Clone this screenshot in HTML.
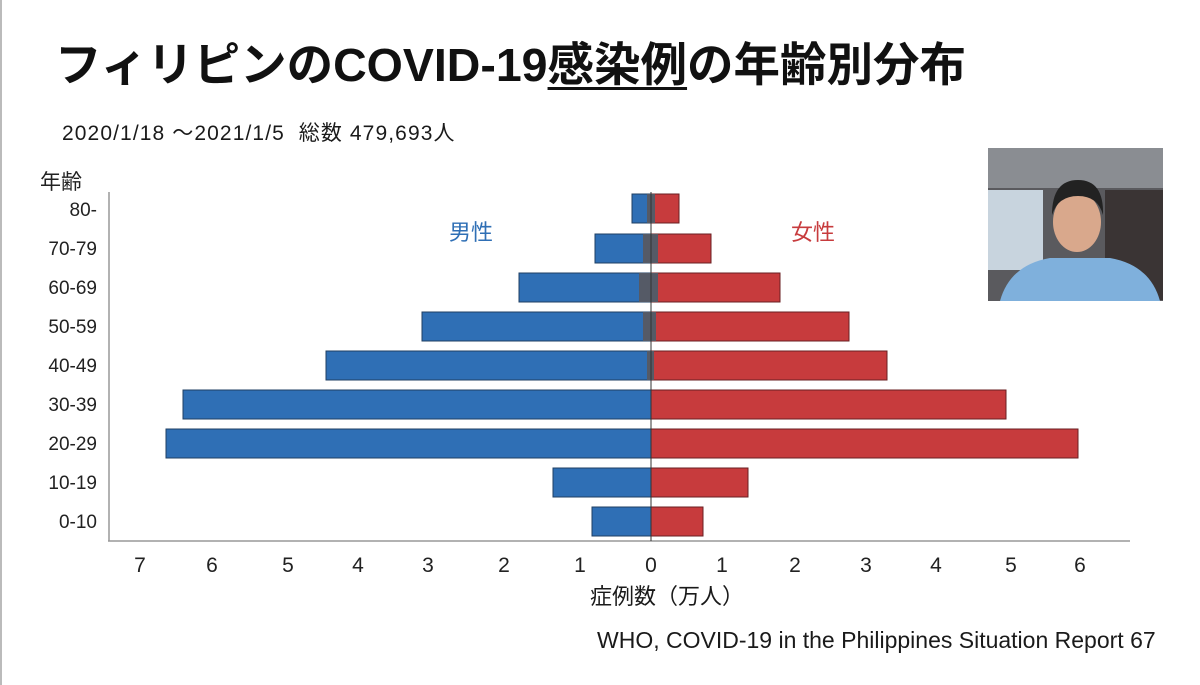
<!DOCTYPE html>
<html><head><meta charset="utf-8"><style>
body{margin:0;width:1200px;height:685px;background:#fff;position:relative;overflow:hidden;font-family:"Liberation Sans","Noto Sans CJK JP",sans-serif;color:#1a1a1a}
.t{position:absolute;white-space:nowrap}
</style></head><body>
<div style="position:absolute;left:0;top:0;width:2px;height:685px;background:#bbb"></div>
<div class="t" style="left:55px;top:28px;font-size:46.5px;font-weight:bold;color:#111">フィリピンのCOVID-19<span style="text-decoration:underline;text-decoration-thickness:3px;text-underline-offset:6px">感染例</span>の年齢別分布</div>
<div class="t" style="left:62px;top:117px;font-size:21px;letter-spacing:1.1px">2020/1/18 ～2021/1/5&nbsp; 総数 479,693人</div>
<div class="t" style="left:590px;top:579px;font-size:22px">症例数（万人）</div>
<div class="t" style="left:597px;top:627px;font-size:23px">WHO, COVID-19 in the Philippines Situation Report 67</div>
<svg width="1200" height="685" style="position:absolute;left:0;top:0" font-family="Liberation Sans, Noto Sans CJK JP, sans-serif">
<text x="40" y="189" font-size="21" fill="#222">年齢</text>
<line x1="109" y1="192" x2="109" y2="541" stroke="#999" stroke-width="1.5"/>
<line x1="108" y1="541" x2="1130" y2="541" stroke="#999" stroke-width="1.5"/>
<g font-size="19" fill="#222" text-anchor="end">
<text x="97" y="216">80-</text><text x="97" y="255">70-79</text><text x="97" y="294">60-69</text><text x="97" y="333">50-59</text><text x="97" y="372">40-49</text><text x="97" y="411">30-39</text><text x="97" y="450">20-29</text><text x="97" y="489">10-19</text><text x="97" y="528">0-10</text>
</g>
<g font-size="21" fill="#222" text-anchor="middle">
<text x="140" y="572">7</text><text x="212" y="572">6</text><text x="288" y="572">5</text><text x="358" y="572">4</text><text x="428" y="572">3</text><text x="504" y="572">2</text><text x="580" y="572">1</text><text x="651" y="572">0</text><text x="722" y="572">1</text><text x="795" y="572">2</text><text x="866" y="572">3</text><text x="936" y="572">4</text><text x="1011" y="572">5</text><text x="1080" y="572">6</text>
</g>
<g stroke="#1f3f63" stroke-width="1" fill="#2f6fb5">
<rect x="632" y="194" width="19" height="29"/><rect x="595" y="234" width="56" height="29"/><rect x="519" y="273" width="132" height="29"/><rect x="422" y="312" width="229" height="29"/><rect x="326" y="351" width="325" height="29"/><rect x="183" y="390" width="468" height="29"/><rect x="166" y="429" width="485" height="29"/><rect x="553" y="468" width="98" height="29"/><rect x="592" y="507" width="59" height="29"/>
</g>
<g stroke="#6a1f22" stroke-width="1" fill="#c73b3d">
<rect x="651" y="194" width="28" height="29"/><rect x="651" y="234" width="60" height="29"/><rect x="651" y="273" width="129" height="29"/><rect x="651" y="312" width="198" height="29"/><rect x="651" y="351" width="236" height="29"/><rect x="651" y="390" width="355" height="29"/><rect x="651" y="429" width="427" height="29"/><rect x="651" y="468" width="97" height="29"/><rect x="651" y="507" width="52" height="29"/>
</g>
<g fill="#555a66">
<rect x="647" y="194" width="8" height="29"/><rect x="643" y="234" width="15" height="29"/><rect x="639" y="273" width="19" height="29"/><rect x="643" y="312" width="13" height="29"/><rect x="647" y="351" width="7" height="29"/>
</g>
<line x1="651" y1="192" x2="651" y2="541" stroke="#333" stroke-width="1"/>
<text x="449" y="240" font-size="22" fill="#2f6fb5">男性</text>
<text x="791" y="240" font-size="22" fill="#c73b3d">女性</text>
<g>
<rect x="988" y="148" width="175" height="153" fill="#5a5a5e"/>
<rect x="988" y="148" width="175" height="40" fill="#8a8d92"/>
<rect x="988" y="190" width="55" height="80" fill="#c8d4de"/>
<rect x="1105" y="190" width="58" height="110" fill="#3a3434"/>
<path d="M1000 301 Q1010 265 1050 258 L1110 258 Q1150 265 1160 301 Z" fill="#7fb0dc"/>
<ellipse cx="1077" cy="222" rx="24" ry="30" fill="#d9a88c"/>
<path d="M1052 215 Q1052 180 1078 180 Q1104 180 1103 215 Q1098 196 1078 196 Q1058 196 1052 215Z" fill="#222"/>
</g>
</svg>
</body></html>
